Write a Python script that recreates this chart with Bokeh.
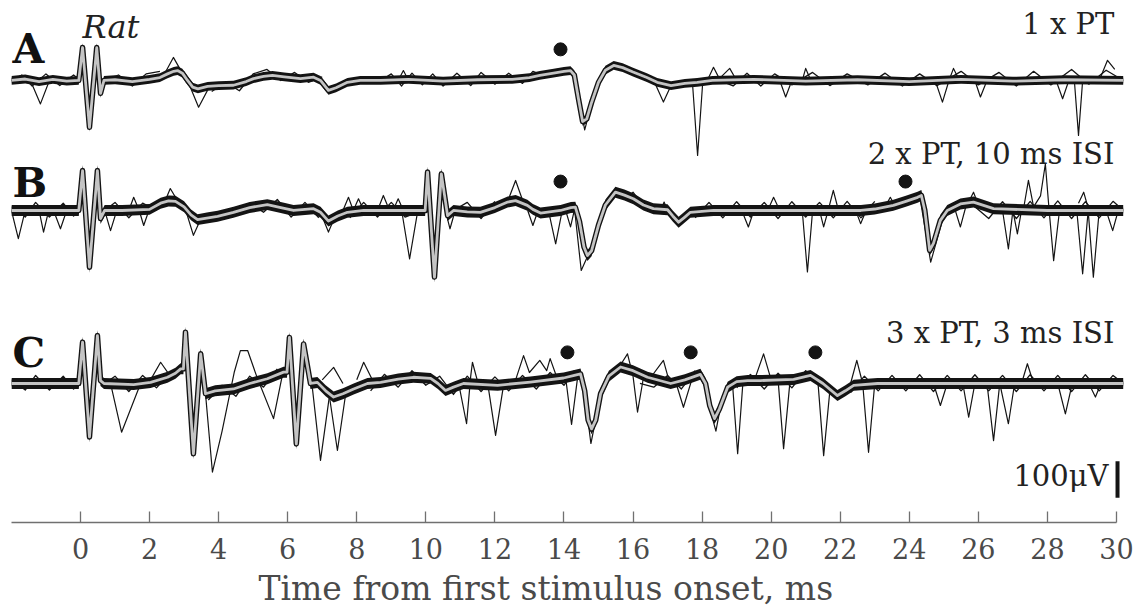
from bokeh.plotting import figure
from bokeh.models import Range1d, FixedTicker, Title
from bokeh.core.properties import value
from bokeh.embed import file_html
from bokeh.resources import INLINE

# ---------------- data (time in ms, amplitude in microvolts, relative to each panel's baseline) -------------
tick_ms = [0, 2, 4, 6, 8, 10, 12, 14, 16, 18, 20, 22, 24, 26, 28, 30]
tick_labels = [str(t) for t in tick_ms]

A_mean = [(-2.0, 0), (-1.6, 4), (-1.2, -3), (-0.8, 3), (-0.4, -2), (-0.05, 0), (0.06, 90), (0.26, -128),
          (0.47, 90), (0.58, -35), (0.68, 0), (1.0, 2), (1.5, -3), (2.0, 3), (2.3, 8), (2.52, 18),
          (2.7, 25), (2.81, 27), (2.95, 20), (3.1, 0), (3.25, -18), (3.4, -23), (3.68, -16), (4.0, -14),
          (4.43, -13), (4.8, -3), (5.01, 5), (5.3, 11), (5.56, 14), (5.9, 10), (6.37, 5), (6.75, 9),
          (6.95, 0), (7.18, -27), (7.4, -20), (7.73, -5), (8.1, 0), (8.69, 0), (9.5, 3), (10.5, -2),
          (11.5, 2), (12.5, 3), (13.0, 8), (13.3, 14), (13.7, 20), (14.0, 25), (14.19, 27), (14.3, 15),
          (14.42, -50), (14.54, -112), (14.66, -105), (14.8, -60), (15.0, -5), (15.2, 28), (15.44, 41),
          (15.7, 35), (16.0, 23), (16.4, 8), (16.7, -5), (17.1, -14), (17.5, -8), (17.86, -5), (18.3, 0),
          (19.5, 3), (21.0, -2), (22.5, 2), (24.0, -3), (25.5, 3), (27.0, -2), (28.5, 2), (30.2, 0)]
A_out = [
    [(-1.45, 0), (-1.16, -64), (-0.9, 0)],
    [(2.4, 12), (2.69, 63), (2.95, 20)],
    [(3.1, 0), (3.42, -73), (3.75, -14)],
    [(9.2, 0), (9.35, 27), (9.5, 0)],
    [(14.3, 20), (14.6, -135), (14.9, -30)],
    [(16.6, 0), (16.88, -59), (17.1, -14)],
    [(17.72, -5), (17.87, -205), (18.02, -3)],
    [(18.15, 0), (18.33, 36), (18.5, 5), (18.8, 33), (19.0, 0)],
    [(20.25, 0), (20.42, -45), (20.6, 0)],
    [(20.9, 0), (21.0, 33), (21.15, 0)],
    [(24.75, 0), (24.96, -59), (25.15, 0)],
    [(25.15, 0), (25.28, 33), (25.45, 0)],
    [(25.9, 0), (26.06, -45), (26.25, 0)],
    [(28.25, 0), (28.44, -50), (28.62, 0)],
    [(28.78, 0), (28.9, -150), (29.02, 0)],
    [(29.5, 0), (29.74, 55), (29.95, 30)],
]
A_ripple = [
    [(-2.0, 0), (-1.7, 15), (-1.4, -15), (-1.0, 18), (-0.6, -14), (-0.2, 15), (0.0, 0)],
    [(0.7, 0), (1.1, 15), (1.5, -15), (1.9, 18), (2.3, 25)],
    [(3.8, -30), (4.2, -5), (4.6, -28), (5.0, 18), (5.4, 30), (5.8, 0), (6.2, 22), (6.6, -5), (7.0, 10)],
    [(8.7, 0), (9.0, 18), (9.3, -15), (9.6, 20), (9.9, -12), (10.2, 18), (10.5, -15), (10.9, 20),
     (11.3, -14), (11.6, 22), (12.0, -10), (12.4, 20), (12.8, -8), (13.1, 25), (13.5, 10), (13.8, 30), (14.1, 20)],
    [(18.5, 0), (18.9, -15), (19.3, 20), (19.7, -15), (20.1, 18), (20.6, -12), (21.2, 22), (21.7, -14),
     (22.2, 18), (22.8, -12), (23.3, 20), (23.8, -15), (24.3, 18), (24.8, -14), (25.5, 25), (26.0, -12),
     (26.6, 22), (27.1, -15), (27.6, 25), (28.1, -12), (28.7, 30), (29.2, -10), (29.7, 28), (30.2, 0)],
]

B_mean = [(-2.0, 0), (-1.0, 0), (-0.05, 0), (0.06, 109), (0.26, -155), (0.49, 109), (0.58, -22), (0.7, 0),
          (1.2, 0), (2.0, 3), (2.32, 20), (2.55, 26), (2.75, 25), (3.0, 10), (3.2, -12), (3.39, -25),
          (3.7, -20), (3.97, -16), (4.43, -5), (4.9, 8), (5.41, 16), (5.8, 8), (6.17, 0), (6.75, 5),
          (6.95, -5), (7.18, -29), (7.45, -15), (7.73, -5), (8.2, 0), (8.69, 0), (9.98, 0), (10.05, 105),
          (10.25, -182), (10.45, 100), (10.63, -14), (10.8, 0), (11.2, -4), (11.58, -5), (12.0, 8),
          (12.37, 23), (12.6, 27), (12.94, 14), (13.1, 3), (13.32, -7), (13.9, 0), (14.2, 8), (14.33, 9),
          (14.45, -30), (14.58, -100), (14.68, -123), (14.8, -110), (15.0, -40), (15.2, 15), (15.49, 50),
          (15.75, 42), (16.01, 32), (16.3, 15), (16.59, 5), (17.0, 2), (17.15, -15), (17.32, -32),
          (17.5, -18), (17.66, -5), (18.33, 0), (20.0, 0), (22.6, 0), (23.0, 4), (23.54, 14), (23.9, 25),
          (24.24, 36), (24.35, 41), (24.45, 0), (24.59, -109), (24.7, -90), (24.9, -27), (25.1, 0),
          (25.48, 18), (25.86, 23), (26.44, 5), (28.0, 0), (30.2, 0)]
B_out = [
    [(-2.0, 0), (-1.8, -77), (-1.6, 0)],
    [(-1.2, 0), (-1.07, -59), (-0.92, 0)],
    [(-0.78, 0), (-0.58, -50), (-0.4, 0)],
    [(0.7, 0), (0.87, -55), (1.05, 0)],
    [(1.4, 0), (1.54, 36), (1.7, 0)],
    [(1.7, 0), (1.83, -41), (1.98, 0)],
    [(2.4, 15), (2.6, 60), (2.85, 20)],
    [(3.05, 0), (3.27, -68), (3.5, -20)],
    [(6.95, -5), (7.18, -59), (7.4, -10)],
    [(7.6, 0), (7.76, 36), (7.9, 0), (8.05, 32), (8.2, 0)],
    [(8.6, 0), (8.77, 41), (8.95, 0)],
    [(9.05, 0), (9.2, 32), (9.35, 0)],
    [(9.3, 0), (9.53, -132), (9.75, -10), (9.9, 0)],
    [(10.58, -5), (10.7, -50), (10.85, 0)],
    [(12.35, 20), (12.6, 82), (12.85, 15)],
    [(12.95, 0), (13.1, -41), (13.25, 0)],
    [(13.55, 0), (13.76, -91), (13.95, 0)],
    [(14.05, 0), (14.19, -45), (14.3, 0)],
    [(14.3, 10), (14.5, -164), (14.85, -90), (15.1, 0)],
    [(15.8, 35), (16.0, 50), (16.2, 25)],
    [(16.8, 0), (16.9, 23), (17.0, 0)],
    [(19.15, 0), (19.34, -45), (19.5, 0)],
    [(19.9, 0), (20.07, 36), (20.25, 0)],
    [(20.9, 0), (21.05, -168), (21.2, 0)],
    [(21.4, 0), (21.52, -45), (21.65, 0)],
    [(21.65, 0), (21.8, 55), (21.95, 0)],
    [(22.45, 0), (22.59, -36), (22.75, 0)],
    [(23.3, 10), (23.45, 36), (23.6, 10)],
    [(24.3, 40), (24.62, -141), (24.95, -30)],
    [(25.3, 10), (25.48, -45), (25.65, 15)],
    [(25.7, 20), (25.86, 50), (26.0, 15)],
    [(26.7, 0), (26.87, -105), (27.0, 0), (27.13, -64), (27.25, 0)],
    [(27.3, 0), (27.45, 82), (27.6, 10), (27.8, 40), (27.94, 127), (28.05, 0), (28.18, -137), (28.35, 0)],
    [(28.85, 0), (29.02, -173), (29.18, 0), (29.33, -182), (29.5, 0)],
    [(28.9, 20), (29.05, 50), (29.2, 0)],
    [(29.7, 0), (29.89, -55), (30.05, 0)],
]
B_ripple = [
    [(-2.0, 10), (-1.6, -18), (-1.3, 22), (-0.9, -18), (-0.5, 20), (-0.2, -15), (0.0, 0)],
    [(0.7, 0), (1.0, 22), (1.4, -20), (1.8, 20), (2.2, 0)],
    [(4.5, -5), (4.9, 20), (5.3, -5), (5.7, 30), (6.1, -18), (6.5, 22), (6.9, -20)],
    [(7.8, -20), (8.2, 22), (8.6, -18), (9.0, 22), (9.4, -18), (9.9, 0)],
    [(10.8, 0), (11.2, 22), (11.6, -22), (12.0, 25)],
    [(17.8, -20), (18.2, 22), (18.6, -20), (19.0, 24), (19.4, -18), (19.8, 22), (20.2, -22), (20.6, 24),
     (21.0, -18), (21.4, 22), (21.8, -20), (22.2, 25), (22.6, -20), (23.0, 25)],
    [(25.9, 10), (26.3, -22), (26.7, 24), (27.1, -22), (27.5, 25), (27.9, -20), (28.3, 26), (28.7, -22),
     (29.1, 24), (29.5, -20), (29.9, 25), (30.2, 0)],
]

C_mean = [(-2.0, 0), (-1.0, 0), (-0.05, 0), (0.06, 113), (0.26, -146), (0.49, 131), (0.58, 8), (0.68, 0),
          (1.54, -3), (2.03, 3), (2.52, 17), (2.75, 28), (2.9, 40), (2.98, 40), (3.04, 140), (3.27, -192),
          (3.48, 81), (3.62, -28), (3.9, -20), (4.43, -15), (4.9, 0), (5.41, 13), (5.88, 31), (5.98, 31),
          (6.05, 126), (6.25, -165), (6.46, 108), (6.66, 0), (6.86, 3), (7.1, -20), (7.33, -37),
          (7.6, -28), (7.91, -15), (8.31, 0), (8.69, 3), (9.2, 12), (9.64, 17), (10.14, 14), (10.35, 0),
          (10.57, -19), (10.8, -10), (11.09, 0), (12.08, -5), (13.03, 4), (13.99, 15), (14.3, 22),
          (14.48, 26), (14.6, -20), (14.7, -100), (14.8, -124), (14.92, -100), (15.06, -28), (15.3, 20),
          (15.64, 45), (16.0, 35), (16.42, 17), (17.09, 0), (17.5, 10), (17.95, 25), (18.1, 0),
          (18.22, -60), (18.36, -96), (18.5, -70), (18.74, -10), (19.0, 5), (19.32, 8), (19.69, 8),
          (20.65, 11), (21.14, 22), (21.5, 0), (21.92, -33), (22.15, -20), (22.39, -5), (23.08, 0),
          (25.0, 0), (27.0, 0), (30.2, 0)]
C_out = [
    [(0.87, 0), (1.19, -133), (1.74, 0)],
    [(2.0, 5), (2.32, 58), (2.6, 20)],
    [(3.62, -28), (3.82, -242), (4.1, -130), (4.45, 30), (4.63, 90), (4.84, 90), (5.1, 20), (5.59, -96), (5.85, 25)],
    [(6.7, 0), (6.95, -210), (7.2, -40)],
    [(7.2, -30), (7.44, -183), (7.7, -15)],
    [(7.0, 10), (7.33, 44), (7.6, 0)],
    [(8.0, 10), (8.2, 58), (8.45, 10)],
    [(10.95, 0), (11.18, -110), (11.3, 20), (11.35, 58), (11.5, 5)],
    [(11.8, -5), (12.02, -142), (12.25, -5)],
    [(12.6, 10), (12.83, 76), (13.0, 30), (13.3, 63), (13.5, 35), (13.6, 68), (13.8, 15)],
    [(14.05, 15), (14.22, -112), (14.4, 20)],
    [(14.55, 10), (14.78, -164), (15.0, -60)],
    [(15.6, 45), (15.84, 81), (16.0, 20), (16.13, -78), (16.3, 15)],
    [(16.5, 15), (16.88, 63), (17.05, 5)],
    [(17.25, 0), (17.46, -65), (17.7, 10)],
    [(18.2, -60), (18.4, -130), (18.6, -30)],
    [(18.88, 0), (19.03, -192), (19.18, 0)],
    [(19.5, 5), (19.78, 81), (20.0, 10)],
    [(20.2, 10), (20.36, -178), (20.55, 10)],
    [(21.35, 10), (21.52, -197), (21.7, -20)],
    [(22.3, 0), (22.48, 63), (22.65, 0)],
    [(22.65, 0), (22.82, -188), (23.0, 0)],
    [(24.7, 0), (24.9, -60), (25.1, 0)],
    [(25.55, 0), (25.72, -92), (25.9, 0)],
    [(26.25, 0), (26.44, -156), (26.62, 0), (26.87, -110), (27.05, 0)],
    [(27.25, 0), (27.42, 54), (27.6, 0)],
    [(28.3, 0), (28.52, -83), (28.72, 0)],
    [(29.2, 0), (29.39, -37), (29.55, 0)],
]
C_ripple = [
    [(-2.0, 10), (-1.6, -18), (-1.3, 22), (-0.9, -18), (-0.5, 20), (-0.2, -15), (0.0, 0)],
    [(0.7, 0), (1.0, 20), (1.4, -22), (1.8, 22), (2.2, -12), (2.6, 30)],
    [(3.7, -45), (4.1, -5), (4.5, -35), (4.9, 20), (5.3, -10), (5.7, 40)],
    [(8.4, -20), (8.8, 25), (9.2, -10), (9.6, 35), (10.0, -5), (10.4, 20), (10.8, -30), (11.2, 20),
     (11.6, -22), (12.0, 18), (12.4, -20), (12.8, 22), (13.2, -15), (13.6, 30), (14.0, -5), (14.3, 35)],
    [(16.2, 0), (16.6, -10), (17.0, 22), (17.4, -15), (17.8, 35)],
    [(19.0, -12), (19.4, 25), (19.8, -15), (20.2, 28), (20.6, -12), (21.0, 35), (21.4, 10)],
    [(22.3, -25), (22.7, 20), (23.1, -20), (23.5, 22), (23.9, -20), (24.3, 24), (24.7, -22), (25.1, 22),
     (25.5, -20), (25.9, 24), (26.3, -20), (26.7, 22), (27.1, -22), (27.5, 24), (27.9, -20), (28.3, 22),
     (28.7, -22), (29.1, 24), (29.5, -20), (29.9, 22), (30.2, 0)],
]

A_dots_ms = [13.9]
B_dots_ms = [13.9, 23.89]
C_dots_ms = [14.1, 17.67, 21.28]

panel_letters = ["A", "B", "C"]
panel_titles = ["1 x PT", "2 x PT, 10 ms ISI", "3 x PT, 3 ms ISI"]
species = "Rat"
scale_bar_uV = 100
scale_label = "100μV"
x_title = "Time from first stimulus onset, ms"

# ---------------- layout / style ----------------
FONT = value("DejaVu Serif")
OFFSETS = [1207.7, 852.5, 379.8]          # vertical stacking of the panels (uV)
BANDS = [12, 15, 15]                      # half-height of the dark band of overlaid sweeps
DOT_Y = [85, 79, 85]
LETTER_Y = [86, 74, 83]                   # vertical centre of the panel letters
TITLE_Y = [153, 153, 139]                 # vertical centre of the panel titles

p = figure(width=1138, height=615, x_range=Range1d(-1.998, 30.203), y_range=Range1d(0, 1426.2),
           output_backend="svg", toolbar_location=None,
           min_border_left=11, min_border_right=15, min_border_top=0, min_border_bottom=93)
p.yaxis.visible = False
p.xgrid.visible = False
p.ygrid.visible = False
p.outline_line_color = None
p.background_fill_color = "white"
p.border_fill_color = "white"

xa = p.xaxis[0]
xa.ticker = FixedTicker(ticks=tick_ms)
xa.major_label_overrides = {t: l for t, l in zip(tick_ms, tick_labels)}
xa.bounds = (-1.998, 30)
xa.major_tick_in = 11
xa.major_tick_out = 0
xa.minor_tick_in = 0
xa.minor_tick_out = 0
xa.axis_line_color = "#707070"
xa.axis_line_width = 1.3
xa.major_tick_line_color = "#707070"
xa.major_tick_line_width = 1.3
xa.major_label_text_font = "DejaVu Serif"
xa.major_label_text_font_size = "27px"
xa.major_label_text_color = "#4a4a4a"
xa.major_label_standoff = 15

p.add_layout(Title(text=x_title, align="left", offset=247, standoff=10,
                   text_font="DejaVu Serif", text_font_size="33px", text_font_style="normal",
                   text_color="#4a4a4a"), "below")

DARK = "#141414"
GREY = "#c4c4c4"

panels = [(A_mean, A_out, A_ripple, A_dots_ms), (B_mean, B_out, B_ripple, B_dots_ms),
          (C_mean, C_out, C_ripple, C_dots_ms)]
for i, (mean, outs, ripples, dots) in enumerate(panels):
    off = OFFSETS[i]
    band = BANDS[i]
    t = [a for a, b in mean]
    y = [b + off for a, b in mean]
    p.varea(x=t, y1=[v - band for v in y], y2=[v + band for v in y], fill_color=DARK)
    for o in ripples:
        p.line(x=[a for a, b in o], y=[b + off for a, b in o], line_color=DARK, line_width=1.3,
               line_join="round")
    for o in outs:
        p.line(x=[a for a, b in o], y=[b + off for a, b in o], line_color=DARK, line_width=1.2,
               line_join="round")
    p.line(x=t, y=y, line_color=DARK, line_width=5.5, line_join="round")
    p.line(x=t, y=y, line_color=GREY, line_width=2.8, line_join="round")
    p.scatter(x=dots, y=[DOT_Y[i] + off] * len(dots), size=13, color=DARK)
    p.text(x=[-1.97], y=[LETTER_Y[i] + off], text=[panel_letters[i]], text_font=FONT,
           text_font_size="41px", text_font_style="bold", text_color="#111111",
           text_align="left", text_baseline="middle")
    p.text(x=[29.94], y=[TITLE_Y[i] + off], text=[panel_titles[i]], text_font=FONT,
           text_font_size="29px", text_color="#222222", text_align="right", text_baseline="middle")

p.text(x=[0.06], y=[147 + OFFSETS[0]], text=[species], text_font=FONT, text_font_size="32px",
       text_font_style="italic", text_color="#222222", text_align="left", text_baseline="middle")

# scale bar
p.segment(x0=[30.03], y0=[67.5], x1=[30.03], y1=[67.5 + scale_bar_uV], line_color=DARK, line_width=4)
p.text(x=[29.77], y=[128.4], text=[scale_label], text_font=FONT, text_font_size="29px",
       text_color="#222222", text_align="right", text_baseline="middle")

open("out.html", "w").write(file_html(p, INLINE))
